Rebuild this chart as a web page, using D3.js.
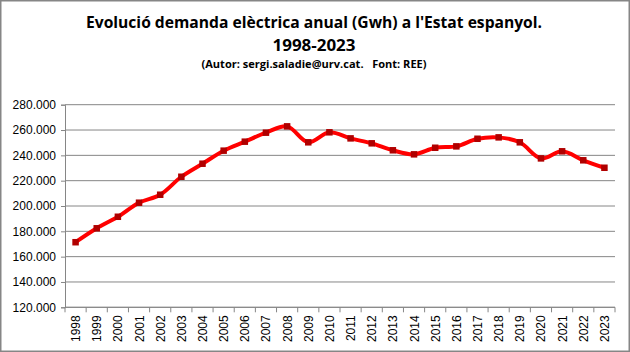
<!DOCTYPE html>
<html>
<head>
<meta charset="utf-8">
<script src="https://cdn.jsdelivr.net/npm/d3@7"></script>
<style>
  html, body { margin: 0; padding: 0; background: #fff; }
  svg { display: block; }
</style>
</head>
<body>
<div id="chart"></div>
<script>
const w = 630, h = 352;
const padding = { top: 104.7, bottom: 44.7, left: 65, right: 15 };

const years = ["1998", "1999", "2000", "2001", "2002", "2003", "2004", "2005", "2006", "2007", "2008", "2009", "2010",
  "2011", "2012", "2013", "2014", "2015", "2016", "2017", "2018", "2019", "2020", "2021", "2022", "2023"];
const demand = [171400, 182400, 191500, 202600, 208900, 223100, 233400, 243700, 250800, 257900, 262900, 250300, 258200,
  253400, 249500, 244000, 240800, 246000, 247100, 253100, 254200, 250300, 237600, 243200, 236100, 230200];
const yTicks = [120000, 140000, 160000, 180000, 200000, 220000, 240000, 260000, 280000];
const titleLines = ["Evolució demanda elèctrica anual (Gwh) a l'Estat espanyol.", "1998-2023"];
const subtitle = "(Autor: sergi.saladie@urv.cat.   Font: REE)";

const data = years.map((y, i) => ({ year: y, value: demand[i] }));
const locale = d3.formatLocale({ decimal: ",", thousands: ".", grouping: [3], currency: ["", "€"] });
const fmt = locale.format(",.0f");

const svg = d3.select("#chart").append("svg").attr("width", w).attr("height", h);

// outer frame
svg.append("rect")
  .attr("x", 0.75).attr("y", 0.75)
  .attr("width", w - 1.5).attr("height", h - 1.5)
  .attr("fill", "#fff").attr("stroke", "#868686").attr("stroke-width", 1.5);

// titles
svg.append("text")
  .attr("x", 314).attr("y", 28)
  .attr("text-anchor", "middle")
  .attr("font-family", "Open Sans, sans-serif").attr("font-weight", "bold").attr("font-size", 16)
  .attr("textLength", 456).attr("lengthAdjust", "spacingAndGlyphs")
  .text(titleLines[0]);
svg.append("text")
  .attr("x", 314).attr("y", 51)
  .attr("text-anchor", "middle")
  .attr("font-family", "Open Sans, sans-serif").attr("font-weight", "bold").attr("font-size", 16)
  .attr("textLength", 83).attr("lengthAdjust", "spacingAndGlyphs")
  .text(titleLines[1]);
svg.append("text")
  .attr("x", 314).attr("y", 68)
  .attr("text-anchor", "middle")
  .attr("font-family", "Open Sans, sans-serif").attr("font-weight", "bold").attr("font-size", 10.5)
  .attr("textLength", 225).attr("lengthAdjust", "spacingAndGlyphs")
  .attr("xml:space", "preserve")
  .text(subtitle);

const x = d3.scalePoint().domain(years).range([padding.left, w - padding.right]).padding(0.5);
const y = d3.scaleLinear().domain([120000, 280000]).range([h - padding.bottom, padding.top]);
const step = x.step();

// gridlines
svg.append("g")
  .selectAll("line")
  .data(yTicks)
  .enter()
  .append("line")
  .attr("x1", padding.left).attr("x2", w - padding.right)
  .attr("y1", (d) => y(d)).attr("y2", (d) => y(d))
  .attr("stroke", "#868686").attr("stroke-width", 1);

// y axis
const yAxis = svg.append("g")
  .attr("transform", `translate(${padding.left}, 0)`)
  .call(d3.axisLeft(y).tickValues(yTicks).tickFormat(fmt).tickSize(4).tickPadding(5));
yAxis.select(".domain").attr("stroke", "#868686").attr("stroke-width", 1);
yAxis.selectAll(".tick line").attr("stroke", "#868686");
yAxis.selectAll("text")
  .attr("font-family", "Liberation Sans, Arial, sans-serif").attr("font-size", 12).attr("fill", "#000");

// x axis: ticks between categories
const xAxis = svg.append("g").attr("transform", `translate(0, ${y(120000)})`);
xAxis.append("line")
  .attr("x1", padding.left).attr("x2", w - padding.right)
  .attr("stroke", "#868686");
xAxis.selectAll(".tk")
  .data(d3.range(years.length + 1))
  .enter()
  .append("line")
  .attr("class", "tk")
  .attr("x1", (i) => padding.left + i * step).attr("x2", (i) => padding.left + i * step)
  .attr("y1", 0).attr("y2", 5)
  .attr("stroke", "#868686");
xAxis.selectAll("text")
  .data(years)
  .enter()
  .append("text")
  .attr("transform", (d) => `translate(${x(d) + 4.5}, 8) rotate(-90)`)
  .attr("text-anchor", "end")
  .attr("font-family", "Liberation Sans, Arial, sans-serif").attr("font-size", 12).attr("fill", "#000")
  .text((d) => d);

// line
const line = d3.line()
  .x((d) => x(d.year))
  .y((d) => y(d.value))
  .curve(d3.curveCatmullRom.alpha(0.5));
svg.append("path")
  .datum(data)
  .attr("d", line)
  .attr("fill", "none")
  .attr("stroke", "#ff0000")
  .attr("stroke-width", 4)
  .attr("stroke-linejoin", "round");

// markers
svg.append("g")
  .selectAll("rect")
  .data(data)
  .enter()
  .append("rect")
  .attr("x", (d) => x(d.year) - 3.25)
  .attr("y", (d) => y(d.value) - 3.25)
  .attr("width", 6.5).attr("height", 6.5)
  .attr("fill", "#b00000");
</script>
</body>
</html>
